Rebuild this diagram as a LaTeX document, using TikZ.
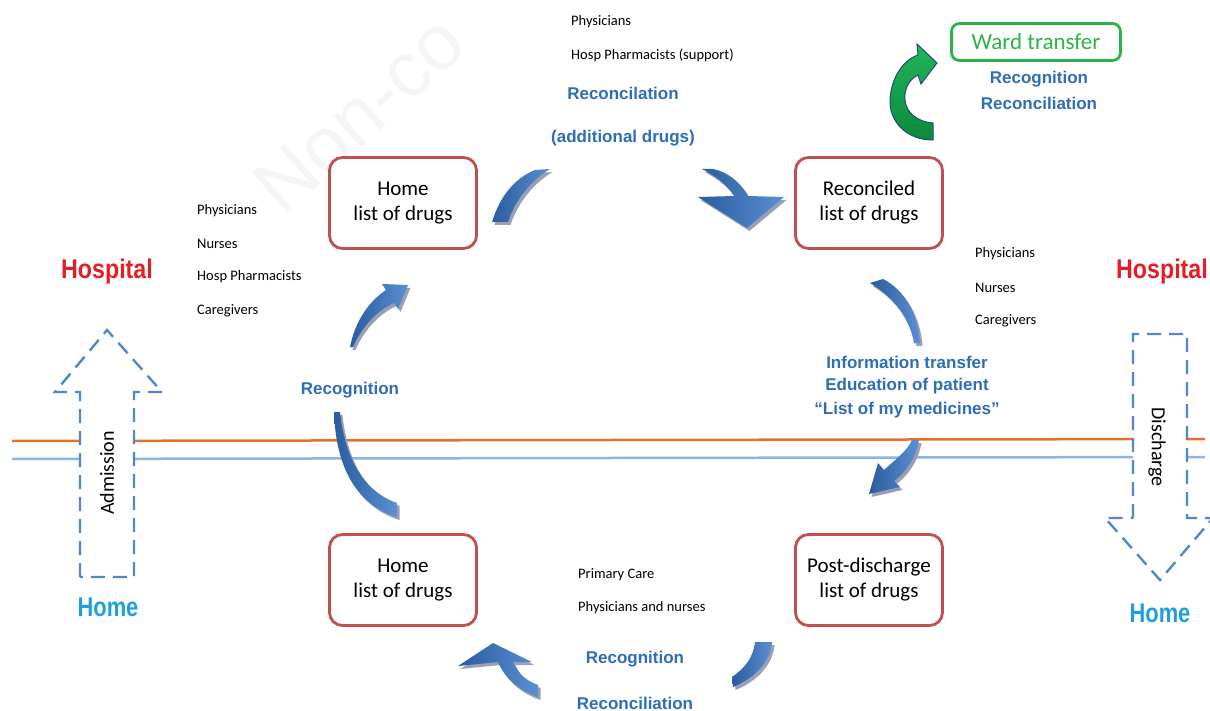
\documentclass[tikz,border=0pt]{standalone}
\usepackage{fontspec}
\setmainfont{Carlito}
\newfontfamily\arialf{Liberation Sans}
\definecolor{boxred}{HTML}{C0504D}
\definecolor{labblue}{HTML}{2E6DB8}
\definecolor{hospred}{HTML}{E41E26}
\definecolor{homeblue}{HTML}{1E9FE2}
\definecolor{lineorange}{HTML}{E8702A}
\definecolor{lineblue}{HTML}{8EB4E3}
\definecolor{dashblue}{HTML}{4F87D0}
\definecolor{wardgreen}{HTML}{2DB24A}
\definecolor{arrowdark}{HTML}{2A5C9E}
\definecolor{arrowlight}{HTML}{5A8FD2}
\definecolor{shadowgray}{HTML}{9A9FB5}
\definecolor{greendark}{HTML}{0B8A3C}
\definecolor{greenlight}{HTML}{22B45A}
\definecolor{greenedge}{HTML}{1F4E79}
\tikzset{
  drugbox/.style={draw=boxred, line width=2.8, rounded corners=13, minimum width=147, minimum height=91, align=center, font=\fontsize{21}{25}\selectfont, fill=white},
  small/.style={anchor=west, font=\fontsize{14.5}{16}\selectfont, text=black, inner sep=0},
  blab/.style={font=\arialf\bfseries\fontsize{17}{20}\selectfont, text=labblue, inner sep=1},
  place/.style={font=\arialf\bfseries\fontsize{27}{30}\selectfont, inner sep=0},
  bigarrow/.style={draw=dashblue, line width=2.4, dash pattern=on 14 off 8, fill=white, line join=miter},
  piece/.style={left color=arrowdark, right color=arrowlight, preaction={fill=shadowgray, transform canvas={shift={(2.5,3)}}}},
  gpiece/.style={bottom color=greendark, top color=greenlight, draw=greenedge, line width=1},
  flowline/.style={line width=2.5}
}
\begin{document}
\begin{tikzpicture}[x=1pt,y=-1pt]
\useasboundingbox (0,0) rectangle (1210,711);
% watermark
\begin{scope}
\clip (0,0) rectangle (1210,711);
\node[anchor=base west, rotate=42, inner sep=0, text=black!4, font=\arialf\fontsize{78}{80}\selectfont] (wm) at (283,218) {Non-co};
\end{scope}
% horizontal lines
\coordinate (ol) at (12,441); \coordinate (or) at (1205,439);
\coordinate (bl) at (12,459); \coordinate (br) at (1205,457);
\draw[flowline, lineorange] (ol) -- (or);
\draw[flowline, lineblue] (bl) -- (br);
% admission / discharge arrows
\draw[bigarrow] (80,577) -- (80,392) -- (55,392) -- (107,330) -- (162,392) -- (134,392) -- (134,577) -- cycle;
\node[rotate=90, font=\fontsize{20}{22}\selectfont] (adm) at (107,473) {Admission};
\draw[bigarrow] (1133,518) -- (1133,334) -- (1187,334) -- (1187,518) -- (1213,518) -- (1160,580) -- (1105,518) -- cycle;
\node[rotate=-90, font=\fontsize{20}{22}\selectfont] (dis) at (1157,447) {Discharge};
% places
\node[place, text=hospred] (hl) at (107,272) {\scalebox{0.86}[1]{Hospital}};
\node[place, text=hospred] (hr) at (1162,272) {\scalebox{0.86}[1]{Hospital}};
\node[place, text=homeblue] (ml) at (108,607) {\scalebox{0.81}[1]{Home}};
\node[place, text=homeblue] (mr) at (1160,613) {\scalebox{0.81}[1]{Home}};
% boxes
\node[drugbox] (h1) at (403,203) {Home\\list of drugs};
\node[drugbox] (rc) at (869,203) {Reconciled\\list of drugs};
\node[drugbox] (h2) at (403,580) {Home\\list of drugs};
\node[drugbox] (pd) at (869,580) {Post-discharge\\list of drugs};
\node[draw=wardgreen, line width=2.8, rounded corners=8, minimum width=169, minimum height=37, text=wardgreen, font=\fontsize{23}{25}\selectfont] (wt) at (1036,42) {Ward transfer};
% curved arrow pieces
\path[piece] (492,222) .. controls (500,196) and (515,178) .. (535,170) -- (550,169) .. controls (532,180) and (516,198) .. (508,222) -- cycle;
\path[piece] (702,169) .. controls (716,176) and (728,186) .. (734,196) -- (698,197) -- (747,228) -- (784,197) -- (748,196) .. controls (740,182) and (728,172) .. (713,169) -- cycle;
\path[piece] (870,283) -- (883,279) .. controls (905,290) and (918,315) .. (920,343) -- (914,343) .. controls (910,320) and (895,298) .. (870,283) -- cycle;
\path[piece] (884,470) .. controls (895,460) and (908,450) .. (912,440) -- (919,440) .. controls (916,458) and (905,473) .. (894,481) -- (900,487) -- (869,494) -- (878,463) -- cycle;
\path[piece] (755,642) -- (772,642) .. controls (770,662) and (755,678) .. (733,687) -- (732,677) .. controls (745,668) and (753,658) .. (755,642) -- cycle;
\path[piece] (498,662) -- (458,666) -- (493,643) -- (532,662) -- (513,662) .. controls (518,674) and (527,681) .. (538,685) -- (538,697) .. controls (520,691) and (505,679) .. (498,662) -- cycle;
\path[piece] (334,412) -- (340,412) .. controls (345,460) and (365,492) .. (397,503) -- (397,517) .. controls (358,505) and (336,470) .. (334,412) -- cycle;
\path[piece] (350,347) .. controls (355,322) and (368,302) .. (386,290) -- (382,284) -- (408,285) -- (398,309) -- (394,303) .. controls (378,310) and (362,326) .. (353,347) -- cycle;
% green arrow
\path[gpiece] (933,140) .. controls (905,140) and (889,120) .. (890,100) .. controls (891,78) and (903,60) .. (918,55) -- (917,44) -- (937,63) -- (921,84) -- (918,75) .. controls (908,80) and (904,90) .. (905,100) .. controls (906,113) and (918,122) .. (933,123) -- cycle;
% texts
\node[small] (t1) at (571,22) {Physicians};
\node[small] (t2) at (571,55) {Hosp Pharmacists (support)};
\node[blab] (b1) at (623,93) {Reconcilation};
\node[blab] (b2) at (623,138) {(additional drugs)};
\node[blab] (w1) at (1039,79) {Recognition};
\node[blab] (w2) at (1039,103) {Reconciliation};
\node[small] (l1) at (197,211) {Physicians};
\node[small] (l2) at (197,244) {Nurses};
\node[small] (l3) at (197,277) {Hosp Pharmacists};
\node[small] (l4) at (197,311) {Caregivers};
\node[small] (r1) at (975,254) {Physicians};
\node[small] (r2) at (975,288) {Nurses};
\node[small] (r3) at (975,321) {Caregivers};
\node[blab] (rg) at (350,390) {Recognition};
\node[blab] (i1) at (907,362) {Information transfer};
\node[blab] (i2) at (907,386) {Education of patient};
\node[blab] (i3) at (907,410) {“List of my medicines”};
\node[small] (p1) at (578,575) {Primary Care};
\node[small] (p2) at (578,608) {Physicians and nurses};
\node[blab] (c1) at (635,659) {Recognition};
\node[blab] (c2) at (635,703) {Reconciliation};
\end{tikzpicture}
\end{document}
